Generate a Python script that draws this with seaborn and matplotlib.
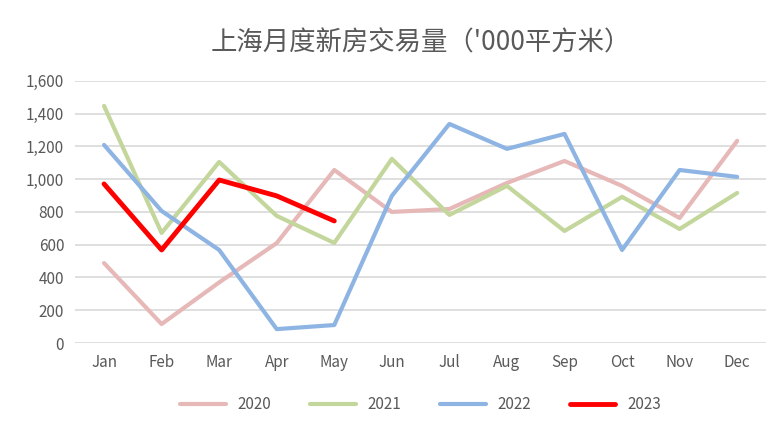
import pandas as pd
import matplotlib.pyplot as plt
import seaborn as sns

months = ["Jan", "Feb", "Mar", "Apr", "May", "Jun", "Jul", "Aug", "Sep", "Oct", "Nov", "Dec"]
v2020 = [488, 116, 370, 610, 1056, 800, 818, 977, 1111, 959, 763, 1234]
v2021 = [1447, 672, 1105, 776, 611, 1124, 782, 959, 684, 892, 696, 916]
v2022 = [1209, 806, 568, 85, 110, 898, 1337, 1185, 1276, 568, 1056, 1014]
v2023 = [971, 568, 995, 898, 745]

sns.set_style("white")
plt.rcParams['font.family'] = ['Noto Sans CJK SC', 'DejaVu Sans']

rows = []
for year, vals in [("2020", v2020), ("2021", v2021), ("2022", v2022), ("2023", v2023)]:
    for m, v in zip(months, vals):
        rows.append({"month": m, "value": v, "year": year})
df = pd.DataFrame(rows)

colors = {"2020": "#e6b8b7", "2021": "#c3d69b", "2022": "#8eb4e3", "2023": "#ff0000"}
widths = {"2020": 3, "2021": 3, "2022": 3, "2023": 3.5}

fig, ax = plt.subplots(figsize=(7.84, 4.37), dpi=100)
for year, grp in df.groupby("year"):
    sns.lineplot(data=grp, x="month", y="value", color=colors[year],
                 linewidth=widths[year], label=year, ax=ax, sort=False)

ax.set_xlim(-0.5, 11.5)
ax.set_ylim(0, 1600)
ax.set_yticks(range(0, 1601, 200))
ax.set_yticklabels([f"{t:,}" for t in range(0, 1601, 200)])
ax.yaxis.grid(True, color="#d9d9d9", linewidth=1.2)
for s in ax.spines.values():
    s.set_visible(False)
ax.tick_params(length=0, labelsize=11, colors="#595959", pad=8)
ax.set_xlabel("")
ax.set_ylabel("")
ax.set_title("上海月度新房交易量（'000平方米）", fontsize=19, color="#595959", pad=22)
ax.legend(loc="upper center", bbox_to_anchor=(0.5, -0.15), ncol=4, frameon=False,
          fontsize=11, handlelength=3, columnspacing=2.5, labelcolor="#595959")
plt.subplots_adjust(left=0.096, right=0.977, top=0.815, bottom=0.215)
plt.savefig("out.png")
